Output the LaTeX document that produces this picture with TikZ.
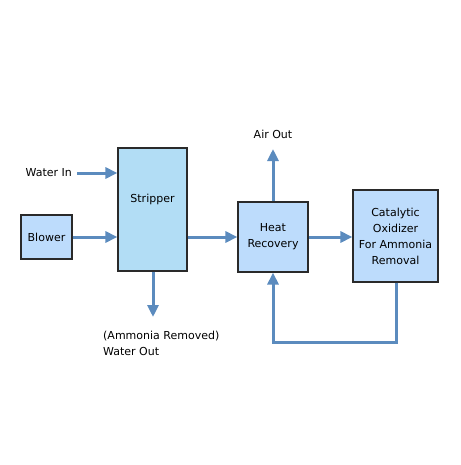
\documentclass[tikz,border=0pt]{standalone}
\usepackage{fontspec}
\setmainfont{DejaVu Sans}
\usetikzlibrary{arrows.meta}
\definecolor{flow}{HTML}{5B8BBE}
\definecolor{boxa}{HTML}{BDDCFC}
\definecolor{boxb}{HTML}{B2DDF5}
\definecolor{edge}{HTML}{2A2A2A}
\begin{document}
\begin{tikzpicture}[x=1pt,y=-1pt,
  unit/.style={draw=edge,line width=1.2pt,fill=boxa,inner sep=0pt,align=center,font=\fontsize{11}{16}\selectfont},
  flowline/.style={draw=flow,line width=3pt},
  flowarrow/.style={flowline,-{Triangle[length=12pt,width=11pt]}},
  lbl/.style={font=\fontsize{11}{16}\selectfont,inner sep=0pt}]
\useasboundingbox (0,0) rectangle (460,465);
\node[unit,minimum width=51pt,minimum height=44pt] (blower) at (46.5,237) {Blower};
\node[unit,fill=boxb,minimum width=69pt,minimum height=123pt] (strip) at (152.5,209.5) {};
\node[lbl] at (152.5,199.5) {Stripper};
\node[unit,minimum width=70pt,minimum height=70pt] (heat) at (273,237) {Heat\\Recovery};
\node[unit,minimum width=85pt,minimum height=92pt] (cat) at (395.5,236) {Catalytic\\Oxidizer\\For Ammonia\\Removal};
\node[lbl,anchor=east] (win) at (72,173) {Water In};
\node[lbl] (air) at (273,134) {Air Out};
\node[lbl,anchor=north west,align=left] (wout) at (103,331) {(Ammonia Removed)\\Water Out};
\coordinate (winS) at (77,173);
\coordinate (airE) at (273,149);
\coordinate (woutE) at (153,317);
\coordinate (c1) at (396,342);
\coordinate (c2) at (273,342);
\draw[flowarrow] (winS) -- (winS -| strip.west);
\draw[flowarrow] (blower.east) -- (strip.west |- blower.east);
\draw[flowarrow] (strip.east |- heat.west) -- (heat.west);
\draw[flowarrow] (heat.east) -- (cat.west |- heat.east);
\draw[flowarrow] (heat.north) -- (airE);
\draw[flowarrow] (strip.south -| woutE) -- (woutE);
\draw[flowarrow] (cat.south -| c1) -- (c1) -- (c2) -- (heat.south);
\end{tikzpicture}
\end{document}
